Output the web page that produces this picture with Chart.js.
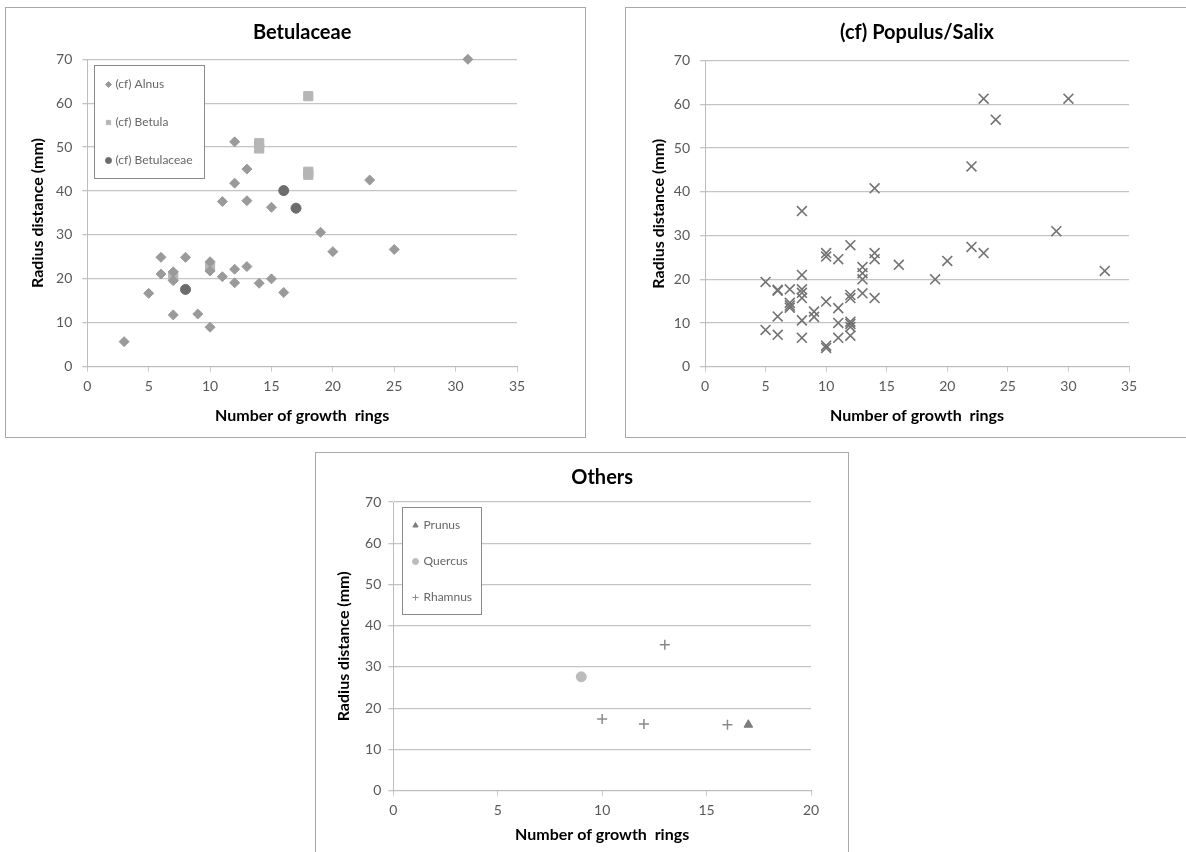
<!DOCTYPE html>
<html>
<head>
<meta charset="utf-8">
<title>Radius distance vs growth rings</title>
<script src="https://cdn.jsdelivr.net/npm/chart.js@4.4.1/dist/chart.umd.min.js"></script>
<style>
  html, body { margin: 0; padding: 0; background: #fff; overflow: hidden; }
  body { width: 1186px; height: 852px; position: relative; }
  .panel { position: absolute; border: 1px solid #a9a9a9; background: #fff; box-sizing: border-box; }
  .panel canvas { display: block; }
</style>
</head>
<body>
<div class="panel" style="left:5px; top:7px; width:581px; height:431px;"><canvas id="betulaceae" width="579" height="429"></canvas></div>
<div class="panel" style="left:625px; top:7px; width:584px; height:431px;"><canvas id="populus" width="582" height="429"></canvas></div>
<div class="panel" style="left:315px; top:452px; width:534px; height:410px;"><canvas id="others" width="532" height="408"></canvas></div>
<script>
// Betulaceae
const alnusRings = [3, 5, 6, 6, 7, 7, 7, 8, 9, 10, 10, 10, 11, 11, 12, 12, 12, 12, 13, 13, 13, 14, 15, 15, 16, 19, 20, 23, 25, 31];
const alnusRadius = [5.7, 16.7, 24.9, 21.1, 21.6, 19.6, 11.8, 24.9, 12, 9, 23.9, 21.8, 20.5, 37.6, 22.2, 19.1, 51.2, 41.8, 22.8, 37.8, 45, 19, 36.3, 20, 16.9, 30.6, 26.2, 42.5, 26.7, 70];
const betulaRings = [7, 10, 14, 14, 18, 18, 18];
const betulaRadius = [20.7, 22.8, 50.9, 49.7, 44.4, 43.7, 61.6];
const betulaceaeRings = [8, 16, 17];
const betulaceaeRadius = [17.6, 40.1, 36.1];

// (cf) Populus/Salix
const populusRings = [5, 5, 6, 6, 6, 6, 7, 7, 7, 7, 8, 8, 8, 8, 8, 8, 8, 9, 9, 10, 10, 10, 10, 10, 11, 11, 11, 11,
  12, 12, 12, 12, 12, 12, 12, 13, 13, 13, 13, 14, 14, 14, 14, 16, 19, 20, 22, 22, 23, 23, 24, 29, 30, 33];
const populusRadius = [19.4, 8.4, 17.6, 17.4, 11.5, 7.3, 17.7, 14.6, 14.0, 13.5, 35.6, 21, 17.7, 16.9, 15.7, 10.6, 6.6, 12.6, 11.4, 26, 25.2, 14.9, 4.3, 4.8, 24.6, 13.4, 10, 6.6,
  27.8, 16.4, 15.7, 10.3, 9.8, 9.1, 7.1, 22.8, 21.4, 20, 16.8, 40.8, 26, 24.6, 15.7, 23.3, 20, 24.2, 45.8, 27.4, 61.3, 26, 56.5, 31, 61.3, 21.9];

// Others
const prunusRings = [17];
const prunusRadius = [16];
const quercusRings = [9];
const quercusRadius = [27.6];
const rhamnusRings = [10, 12, 13, 16];
const rhamnusRadius = [17.4, 16.2, 35.4, 16];

const radiusTicks = { min: 0, max: 70, step: 10 };
const xTitle = 'Number of growth  rings';
const yTitle = 'Radius distance (mm)';

const FONT = 'Lato, "Open Sans", sans-serif';

function points(xs, ys) {
  return xs.map((x, i) => ({ x: x, y: ys[i] }));
}

// small framed legend drawn inside the plot area
const boxLegend = {
  id: 'boxLegend',
  afterDatasetsDraw(chart, args, opts) {
    if (!opts.show) return;
    const { ctx, chartArea } = chart;
    const x0 = Math.round(chartArea.left + opts.left) + 0.5;
    const y0 = Math.round(chartArea.top + opts.top) + 0.5;
    ctx.save();
    ctx.fillStyle = '#fff';
    ctx.fillRect(x0, y0, opts.width, opts.height);
    ctx.strokeStyle = '#8a8a8a';
    ctx.lineWidth = 1;
    ctx.strokeRect(x0, y0, opts.width, opts.height);
    ctx.font = '12px ' + FONT;
    ctx.textBaseline = 'middle';
    chart.data.datasets.forEach((ds, i) => {
      const y = y0 + opts.firstRow + i * opts.rowGap;
      ctx.fillStyle = ds.backgroundColor;
      ctx.strokeStyle = ds.borderColor;
      ctx.lineWidth = 1;
      Chart.helpers.drawPoint(ctx, { pointStyle: ds.pointStyle, radius: 3, borderWidth: 1, rotation: 0 }, x0 + opts.markerX, y);
      ctx.fillStyle = '#666';
      ctx.fillText(ds.label, x0 + opts.textX, y);
    });
    ctx.restore();
  }
};

function makeChart(id, datasets, lay) {
  return new Chart(document.getElementById(id), {
    type: 'scatter',
    data: { datasets: datasets },
    plugins: [boxLegend],
    options: {
      responsive: false,
      animation: false,
      devicePixelRatio: 1,
      layout: { padding: { left: lay.padL, right: lay.padR, top: 0, bottom: lay.padB } },
      plugins: {
        legend: { display: false },
        tooltip: { enabled: false },
        title: {
          display: true,
          text: lay.title,
          fullSize: false,
          color: '#000',
          font: { family: FONT, size: 20, weight: 'bold' },
          padding: { top: lay.titleTop, bottom: lay.titleBottom }
        },
        boxLegend: lay.legend || { show: false }
      },
      scales: {
        x: {
          type: 'linear',
          min: 0,
          max: lay.xMax,
          afterFit: (s) => { s.height = lay.xH; },
          ticks: { stepSize: 5, color: '#595959', padding: 6, font: { family: FONT, size: 14 } },
          grid: { drawOnChartArea: false, drawTicks: true, tickLength: 5, color: '#c8c8c8' },
          border: { color: '#bdbdbd', width: 1 },
          title: { display: true, text: xTitle, color: '#000', padding: { top: 4, bottom: 4 }, font: { family: FONT, size: 16, weight: 'bold' } }
        },
        y: {
          type: 'linear',
          min: radiusTicks.min,
          max: radiusTicks.max,
          afterFit: (s) => { s.width = lay.yW; },
          ticks: { stepSize: radiusTicks.step, color: '#595959', padding: lay.yTickPad, font: { family: FONT, size: 14 } },
          grid: { color: '#c4c4c4', lineWidth: 1.3, drawTicks: true, tickLength: 5 },
          border: { color: '#bdbdbd', width: 1 },
          title: { display: true, text: yTitle, color: '#000', padding: { top: 4, bottom: 4 }, font: { family: FONT, size: 16, weight: 'bold' } }
        }
      }
    }
  });
}

function series(label, xs, ys, style, color, radius, lineWidth) {
  const cross = style === 'cross' || style === 'crossRot';
  return {
    label: label,
    data: points(xs, ys),
    pointStyle: style,
    pointRadius: radius,
    pointBorderWidth: lineWidth || 1,
    backgroundColor: cross ? 'rgba(0,0,0,0)' : color,
    borderColor: color,
    clip: false
  };
}

makeChart('betulaceae', [
  series('(cf) Alnus', alnusRings, alnusRadius, 'rectRot', '#9a9a9a', 5),
  series('(cf) Betula', betulaRings, betulaRadius, 'rect', '#b6b6b6', 6.5),
  series('(cf) Betulaceae', betulaceaeRings, betulaceaeRadius, 'circle', '#6c6c6c', 5)
], {
  title: 'Betulaceae', xMax: 35,
  padL: 18.4, padR: 68, padB: 7.4, xH: 62.9, yW: 62.9, yTickPad: 10,
  titleTop: 12.5, titleBottom: 14.8,
  legend: { show: true, left: 7, top: 6, width: 110, height: 113, firstRow: 19, rowGap: 38, markerX: 14, textX: 21 }
});

makeChart('populus', [
  series('(cf) Populus/Salix', populusRings, populusRadius, 'crossRot', '#737373', 7, 1.6)
], {
  title: '(cf) Populus/Salix', xMax: 35,
  padL: 19.4, padR: 79, padB: 7.4, xH: 62.9, yW: 59.6, yTickPad: 10,
  titleTop: 13, titleBottom: 15.7
});

makeChart('others', [
  series('Prunus', prunusRings, prunusRadius, 'triangle', '#7c7c7c', 5),
  series('Quercus', quercusRings, quercusRadius, 'circle', '#bcbcbc', 5),
  series('Rhamnus', rhamnusRings, rhamnusRadius, 'cross', '#8a8a8a', 5, 1.5)
], {
  title: 'Others', xMax: 20,
  padL: 13.9, padR: 37, padB: 12.4, xH: 57.9, yW: 63.4, yTickPad: 7,
  titleTop: 13, titleBottom: 12,
  legend: { show: true, left: 9, top: 5, width: 79, height: 107, firstRow: 18, rowGap: 36, markerX: 13, textX: 21 }
});
</script>
</body>
</html>
